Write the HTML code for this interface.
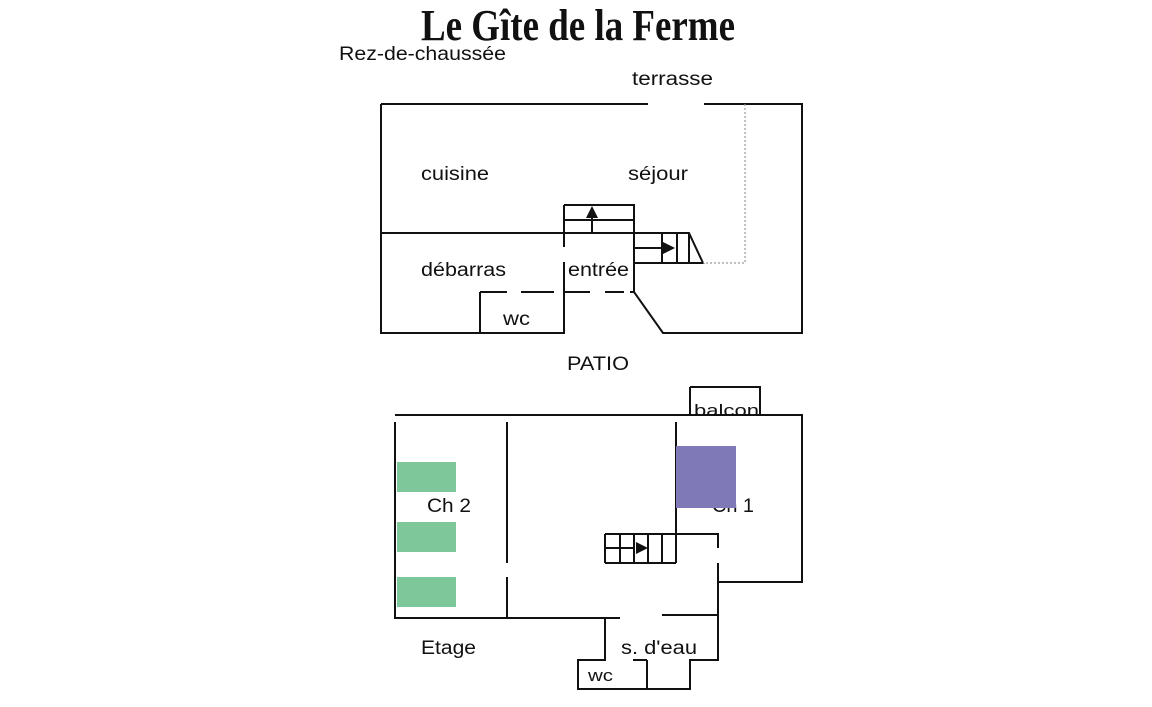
<!DOCTYPE html>
<html><head><meta charset="utf-8"><style>
html,body{margin:0;padding:0;background:#fff;}
svg{display:block;}
text{font-family:"Liberation Sans",sans-serif;font-size:19px;fill:#111;}
</style></head><body>
<svg width="1152" height="707" viewBox="0 0 1152 707" xmlns="http://www.w3.org/2000/svg">
<text x="421" y="40" textLength="314" lengthAdjust="spacingAndGlyphs" style="font-family:'Liberation Serif',serif;font-weight:bold;font-size:44px;">Le Gîte de la Ferme</text>
<text x="339" y="60" textLength="167" lengthAdjust="spacingAndGlyphs">Rez-de-chaussée</text>
<text x="632" y="85" textLength="81" lengthAdjust="spacingAndGlyphs">terrasse</text>
<text x="421" y="180" textLength="68" lengthAdjust="spacingAndGlyphs">cuisine</text>
<text x="628" y="180" textLength="60" lengthAdjust="spacingAndGlyphs">séjour</text>
<text x="421" y="276" textLength="85" lengthAdjust="spacingAndGlyphs">débarras</text>
<text x="568" y="276" textLength="61" lengthAdjust="spacingAndGlyphs">entrée</text>
<text x="503" y="325" textLength="27" lengthAdjust="spacingAndGlyphs">wc</text>
<text x="567" y="370" textLength="62" lengthAdjust="spacingAndGlyphs">PATIO</text>
<text x="694" y="416" textLength="65" lengthAdjust="spacingAndGlyphs" style="font-size:17px">balcon</text>
<text x="427" y="512" textLength="44" lengthAdjust="spacingAndGlyphs">Ch 2</text>
<text x="712" y="512" textLength="42" lengthAdjust="spacingAndGlyphs">Ch 1</text>
<text x="421" y="654" textLength="55" lengthAdjust="spacingAndGlyphs">Etage</text>
<text x="621" y="654" textLength="76" lengthAdjust="spacingAndGlyphs">s. d'eau</text>
<text x="588" y="681" textLength="25" lengthAdjust="spacingAndGlyphs" style="font-size:17px">wc</text>
<g stroke="#111" stroke-width="2" fill="none">
<path d="M381 104H648M704 104H802V333H663L634 292M381 104V333H564V262M564 247V233M480 333V292"/>
<path d="M381 233H689L703 263H634M564 205H634V292M564 205V233M564 220H634M592 233V218"/>
<path d="M662 233V263M677 233V263M689 233V263M634 248H662"/>
<path d="M480 292H507M521 292H554M564 292H590M605 292H624M630 292H634"/>
<path d="M395 415H802V582H718M395 422V618H620M507 422V563M507 577V618M676 422V534"/>
<path d="M605 534H718V548M718 563V660H690V689H578V660H605V618M605 563H676M605 534V563M620 534V563M634 534V563M648 534V563M662 534V563M676 534V563M605 548H634"/>
<path d="M662 615H718M647 660V689M633 660H647M690 387H760V415M690 387V415"/>
</g>
<g stroke="#999" stroke-width="1.2" stroke-dasharray="2,2" fill="none"><path d="M745 104V263H703"/></g>
<polygon points="592,206 586,218 598,218" fill="#111"/>
<polygon points="675,248 663,242 663,254" fill="#111"/>
<polygon points="648,548 636,542 636,554" fill="#111"/>
<g fill="#7dc79a"><rect x="397" y="462" width="59" height="30"/><rect x="397" y="522" width="59" height="30"/><rect x="397" y="577" width="59" height="30"/></g>
<rect x="676" y="446" width="60" height="62" fill="#8079b8"/>
</svg>
</body></html>
